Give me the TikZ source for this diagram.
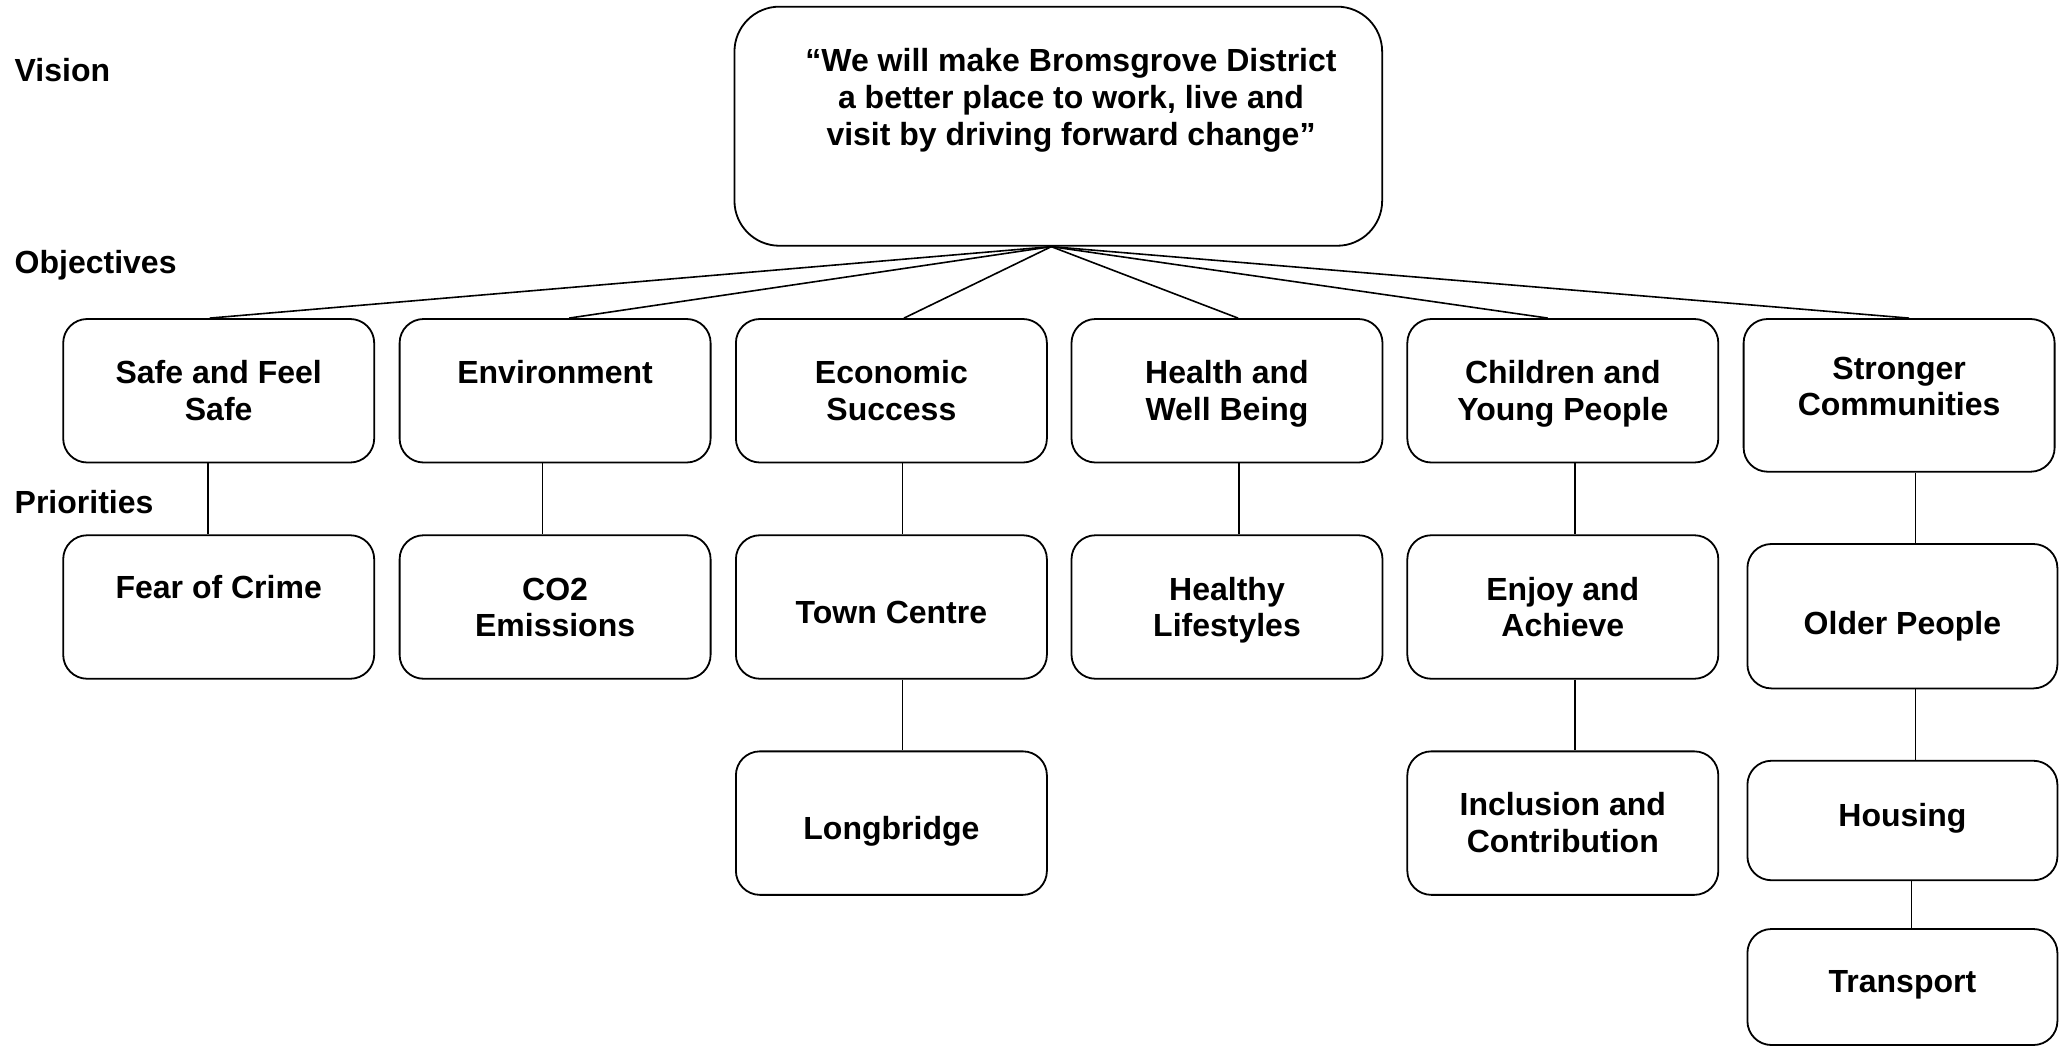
\documentclass[tikz,border=0pt]{standalone}
\usepackage{fontspec}
\setmainfont{Liberation Sans}
\begin{document}
\begin{tikzpicture}[x=1pt,y=-1pt,
  every node/.style={inner sep=0pt},
  txt/.style={font=\fontsize{32}{36.8}\selectfont\bfseries},
  box/.style={txt, draw, line width=1.8pt, rounded corners=24pt,
    minimum width=311pt, minimum height=143.5pt, align=center},
  % vertical placement of the text inside a box
  tb/.style 2 args={text height=#1pt, text depth=#2pt},
  link/.style={line width=1.6pt}]
\useasboundingbox (0,0) rectangle (2060,1047);

% level labels
\node[txt, anchor=base west] (lvision) at (14.5,81) {Vision};
\node[txt, anchor=base west] (lobjectives) at (14.5,273) {Objectives};
\node[txt, anchor=base west] (lpriorities) at (14.5,513.4) {Priorities};

% vision
\node[box, minimum width=647.7pt, minimum height=239.1pt, rounded corners=45pt] (vision) at (1058.3,126.2) {};
\node[txt, align=center] (visiontext) at (1071,100.4)
  {“We will make Bromsgrove District\\a better place to work, live and\\visit by driving forward change”};

% objectives
\node[box, tb={58.7}{0}] (safe) at (218.7,390.75) {Safe and Feel\\Safe};
\node[box, tb={23}{37.8}] (env) at (555.1,390.75) {Environment};
\node[box, tb={58.7}{0}] (econ) at (891.4,390.75) {Economic\\Success};
\node[box, tb={58.7}{0}] (health) at (1227,390.75) {Health and\\Well Being};
\node[box, tb={58.7}{0}] (children) at (1562.8,390.75) {Children and\\Young People};
\node[box, tb={40.9}{0}, minimum height=152.7pt] (stronger) at (1899.1,395.35) {Stronger\\Communities};

% priorities
\node[box, tb={23}{39.4}] (fear) at (218.7,607) {Fear of Crime};
\node[box, tb={59.8}{0}] (cotwo) at (555.1,607) {CO2\\Emissions};
\node[box, tb={33.4}{0}] (town) at (891.4,607) {Town Centre};
\node[box, tb={59.8}{0}] (healthy) at (1227,607) {Healthy\\Lifestyles};
\node[box, tb={59.8}{0}] (enjoy) at (1562.8,607) {Enjoy and\\Achieve};
\node[box, tb={36}{0}, minimum width=310pt, minimum height=144.4pt] (older) at (1902.4,616.2) {Older People};
\node[box, tb={32.2}{0}] (longbridge) at (891.4,823.1) {Longbridge};
\node[box, tb={58.4}{0}] (inclusion) at (1562.8,823.1) {Inclusion and\\Contribution};
\node[box, tb={23}{11.8}, minimum width=310pt, minimum height=119.5pt] (housing) at (1902.4,820.5) {Housing};
\node[box, tb={23}{11.2}, minimum width=310pt, minimum height=116pt] (transport) at (1902.4,987) {Transport};

% vision to objectives
\coordinate (apex) at ([xshift=-7pt]vision.south);
\draw[link] (apex) -- ([xshift=-9pt]safe.north);
\draw[link] (apex) -- ([xshift=14pt]env.north);
\draw[link] (apex) -- ([xshift=12.6pt]econ.north);
\draw[link] (apex) -- ([xshift=11pt]health.north);
\draw[link] (apex) -- ([xshift=-15pt]children.north);
\draw[link] (apex) -- ([xshift=10pt]stronger.north);

% objectives to priorities
\draw[link] ([xshift=-11pt]safe.south) -- ([xshift=-11pt]fear.north);
\draw[link] ([xshift=-12.5pt]env.south) -- ([xshift=-12.5pt]cotwo.north);
\draw[link] ([xshift=11.2pt]econ.south) -- ([xshift=11.2pt]town.north);
\draw[link] ([xshift=12pt]health.south) -- ([xshift=12pt]healthy.north);
\draw[link] ([xshift=12.2pt]children.south) -- ([xshift=12.2pt]enjoy.north);
\draw[link] ([xshift=13pt]older.north |- stronger.south) -- ([xshift=13pt]older.north);
\draw[link] ([xshift=11.2pt]town.south) -- ([xshift=11.2pt]longbridge.north);
\draw[link] ([xshift=12.2pt]enjoy.south) -- ([xshift=12.2pt]inclusion.north);
\draw[link] ([xshift=13pt]older.south) -- ([xshift=13pt]housing.north);
\draw[link] ([xshift=9pt]housing.south) -- ([xshift=9pt]transport.north);
\end{tikzpicture}
\end{document}
